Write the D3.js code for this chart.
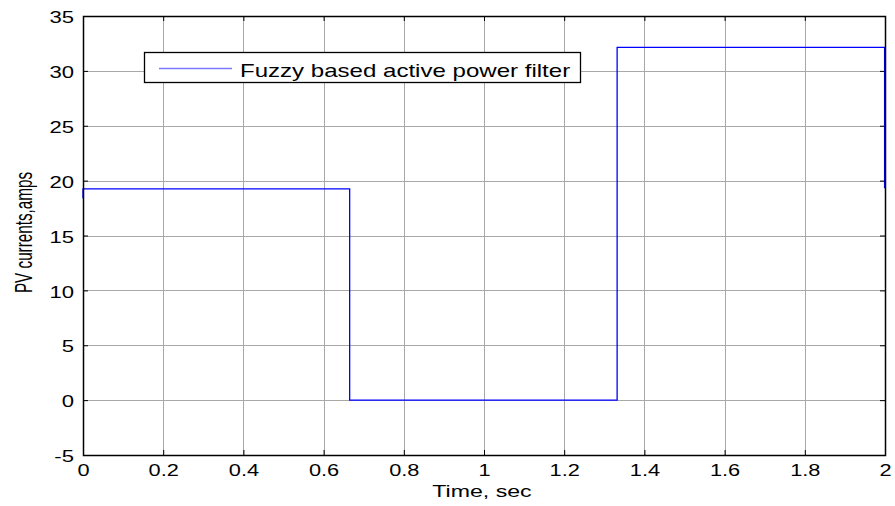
<!DOCTYPE html>
<html>
<head>
<meta charset="utf-8">
<script src="https://cdn.jsdelivr.net/npm/d3@7"></script>
<style>
  html, body { margin: 0; padding: 0; background: #fff; }
  svg { display: block; }
  text { font-family: "Liberation Sans", Arial, sans-serif; fill: #000; }
</style>
</head>
<body>
<svg id="chart" width="895" height="506"></svg>
<script>
// Step response of the PV current (time in seconds, current in amps)
const timeSec = [0, 0, 0.665, 0.665, 1.332, 1.332, 1.999, 1.999];
const pvCurrent = [18.4, 19.25, 19.25, 0, 0, 32.15, 32.15, 19.3];

const xTicks = [0, 0.2, 0.4, 0.6, 0.8, 1, 1.2, 1.4, 1.6, 1.8, 2];
const yTicks = [-5, 0, 5, 10, 15, 20, 25, 30, 35];
const seriesName = "Fuzzy based active power filter";

const svg = d3.select("#chart");
const plotL = 83, plotR = 885, plotT = 16, plotB = 455;

const x = d3.scaleLinear().domain([0, 2]).range([plotL, plotR]);
const y = d3.scaleLinear().domain([-5, 35]).range([plotB, plotT]);

// plain ASCII hyphen for negative numbers
const fmt = d => String(d);

// widen glyphs horizontally (wide Helvetica-like lettering)
function widen(sel, factor) {
  sel.each(function () {
    const len = this.getComputedTextLength();
    d3.select(this).attr("textLength", len * factor).attr("lengthAdjust", "spacingAndGlyphs");
  });
}

// grid
const grid = svg.append("g").attr("stroke", "#a8a8a8").attr("stroke-width", 1);
grid.selectAll("line.vx").data(xTicks.slice(1, -1)).join("line")
  .attr("x1", d => Math.round(x(d)) + 0.5).attr("x2", d => Math.round(x(d)) + 0.5)
  .attr("y1", plotT).attr("y2", plotB);
grid.selectAll("line.hy").data(yTicks.slice(1, -1)).join("line")
  .attr("y1", d => Math.round(y(d)) + 0.5).attr("y2", d => Math.round(y(d)) + 0.5)
  .attr("x1", plotL).attr("x2", plotR);

// axes with inward ticks on all four sides
const tl = 5;
const xAxisB = d3.axisBottom(x).tickValues(xTicks).tickSize(-tl).tickPadding(9.5).tickFormat(fmt);
const xAxisT = d3.axisTop(x).tickValues(xTicks).tickSize(-tl).tickFormat("");
const yAxisL = d3.axisLeft(y).tickValues(yTicks).tickSize(-tl).tickPadding(9).tickFormat(fmt);
const yAxisR = d3.axisRight(y).tickValues(yTicks).tickSize(-tl).tickFormat("");

function style(g) {
  g.select(".domain").remove();
  g.selectAll(".tick line").attr("stroke", "#000");
  g.selectAll(".tick text").attr("font-size", 16).attr("fill", "#000")
    .attr("font-family", "'Liberation Sans', Arial, sans-serif");
}
svg.append("g").attr("transform", `translate(0,${plotB})`).call(xAxisB).call(style)
  .selectAll(".tick text").call(widen, 1.36);
svg.append("g").attr("transform", `translate(0,${plotT})`).call(xAxisT).call(style);
svg.append("g").attr("transform", `translate(${plotL},0)`).call(yAxisL).call(style)
  .selectAll(".tick text").attr("dy", "0.42em").call(widen, 1.38);
svg.append("g").attr("transform", `translate(${plotR},0)`).call(yAxisR).call(style);

// data line
const line = d3.line().x((d, i) => x(timeSec[i])).y(d => y(d));
svg.append("path").datum(pvCurrent)
  .attr("d", line)
  .attr("fill", "none")
  .attr("stroke", "#0000ff")
  .attr("stroke-width", 1.3);

// frame
svg.append("rect").attr("x", plotL + 0.5).attr("y", plotT + 0.5)
  .attr("width", plotR - plotL).attr("height", plotB - plotT)
  .attr("fill", "none").attr("stroke", "#000").attr("stroke-width", 1.5);

// axis labels
svg.append("text").attr("x", 482).attr("y", 497)
  .attr("text-anchor", "middle").attr("font-size", 16.3).text("Time, sec")
  .call(widen, 1.42);
svg.append("text")
  .attr("transform", "translate(32,232.5) rotate(-90) scale(1,1.6)")
  .attr("text-anchor", "middle").attr("font-size", 15.25)
  .text("PV currents,amps");

// legend
const lg = svg.append("g");
lg.append("rect").attr("x", 144.5).attr("y", 52.5).attr("width", 436).attr("height", 30)
  .attr("fill", "#fff").attr("stroke", "#000").attr("stroke-width", 1.3);
lg.append("line").attr("x1", 159).attr("x2", 232).attr("y1", 68.5).attr("y2", 68.5)
  .attr("stroke", "#7a7aff").attr("stroke-width", 1.3);
lg.append("text").attr("x", 240).attr("y", 76.5).attr("font-size", 18.5).text(seriesName)
  .call(widen, 1.3);
</script>
</body>
</html>
